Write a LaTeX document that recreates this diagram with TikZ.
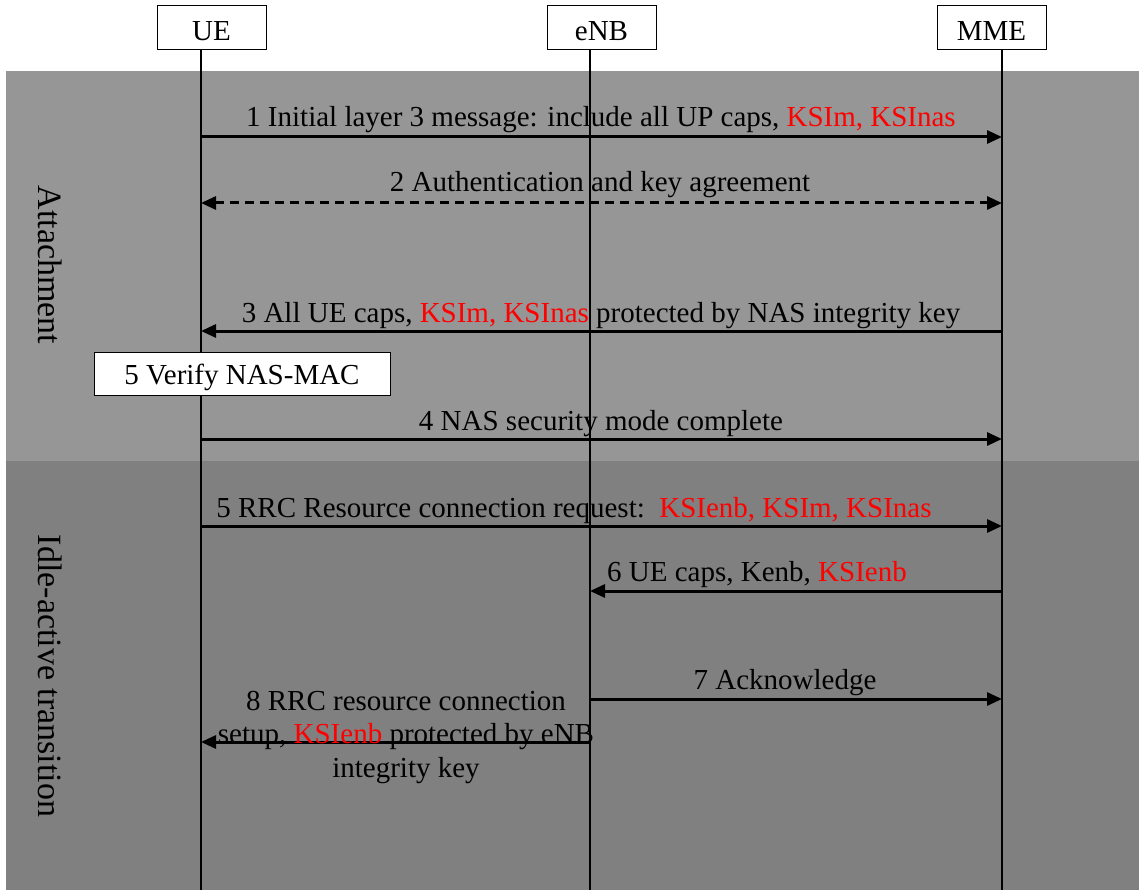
\documentclass[tikz,border=0pt]{standalone}
\usepackage{fontspec}
\setmainfont{Liberation Serif}
\usetikzlibrary{arrows.meta}
\definecolor{bandA}{RGB}{150,150,150}
\definecolor{bandB}{RGB}{128,128,128}
\begin{document}
\begin{tikzpicture}[x=1pt,y=-1pt,
  every node/.style={font=\fontsize{29}{33}\selectfont, inner sep=0pt},
  entity/.style={draw, fill=white, line width=1pt, minimum width=109pt, minimum height=44pt},
  lifeline/.style={line width=1.5pt},
  msg/.style={line width=3pt, -{Triangle[length=15pt,width=13pt]}},
  dmsg/.style={line width=3pt, dash pattern=on 9pt off 6pt, {Triangle[length=15pt,width=13pt]}-{Triangle[length=15pt,width=13pt]}},
  lbl/.style={anchor=base},
  note/.style={draw, fill=white, line width=1pt, minimum width=296pt, minimum height=43pt},
  phase/.style={rotate=-90, anchor=center, font=\fontsize{34}{38}\selectfont}]
\useasboundingbox (0,0) rectangle (1139,890);
% background bands for the two phases
\fill[bandA] (6,71) rectangle (1139,461);
\fill[bandB] (6,461) rectangle (1139,890);

% entities
\node[entity] (ue) at (211.5,28) {};
\node[entity] (enb) at (601.5,28) {};
\node[entity] (mme) at (991.5,28) {};
\node[lbl] (ueT) at (ue.center |- 0,41) {UE};
\node[lbl] (enbT) at (enb.center |- 0,41) {eNB};
\node[lbl] (mmeT) at (mme.center |- 0,41) {MME};

% lifeline ends
\coordinate (ueEnd) at (201,890);
\coordinate (enbEnd) at (590,890);
\coordinate (mmeEnd) at (1002,890);
\draw[lifeline] (ue.south -| ueEnd) -- (ueEnd);
\draw[lifeline] (enb.south -| enbEnd) -- (enbEnd);
\draw[lifeline] (mme.south -| mmeEnd) -- (mmeEnd);

% phase labels
\node[phase] (pAttach) at (50,265) {Attachment};
\node[phase] (pIdle) at (50,676) {Idle-active transition};

% message end points on the lifelines
\coordinate (u1) at (201,137); \coordinate (m1) at (1002,137);
\coordinate (u2) at (201,203); \coordinate (m2) at (1002,203);
\coordinate (u3) at (201,331); \coordinate (m3) at (1002,331);
\coordinate (u4) at (201,439); \coordinate (m4) at (1002,439);
\coordinate (u5) at (201,526); \coordinate (m5) at (1002,526);
\coordinate (e6) at (590,591); \coordinate (m6) at (1002,591);
\coordinate (e7) at (590,699); \coordinate (m7) at (1002,699);
\coordinate (e8) at (590,742); \coordinate (u8) at (201,742);

% messages
\draw[msg] (u1) -- (m1);
\node[lbl] (t1) at (601,127) {1 Initial layer 3 message: include all UP caps, \textcolor{red}{KSIm, KSInas}};

\draw[dmsg] (u2) -- (m2);
\node[lbl] (t2) at (600,192) {2 Authentication and key agreement};

\draw[msg] (m3) -- (u3);
\node[lbl] (t3) at (601,322) {3 All UE caps, \textcolor{red}{KSIm, KSInas} protected by NAS integrity key};

\node[note] (verify) at (242,373.5) {};
\node[lbl] (tv) at (242,384) {5 Verify NAS-MAC};

\draw[msg] (u4) -- (m4);
\node[lbl] (t4) at (601,430) {4 NAS security mode complete};

\draw[msg] (u5) -- (m5);
\node[lbl] (t5) at (574,517) {5 RRC Resource connection request:\ \ \textcolor{red}{KSIenb, KSIm, KSInas}};

\draw[msg] (m6) -- (e6);
\node[lbl] (t6) at (757,581) {6 UE caps, Kenb, \textcolor{red}{KSIenb}};

\draw[msg] (e7) -- (m7);
\node[lbl] (t7) at (785,689) {7 Acknowledge};

\draw[msg] (e8) -- (u8);
\node[lbl] (t8a) at (406,710) {8 RRC resource connection};
\node[lbl] (t8b) at (406,743) {setup, \textcolor{red}{KSIenb} protected by eNB};
\node[lbl] (t8c) at (406,777) {integrity key};
\end{tikzpicture}
\end{document}
